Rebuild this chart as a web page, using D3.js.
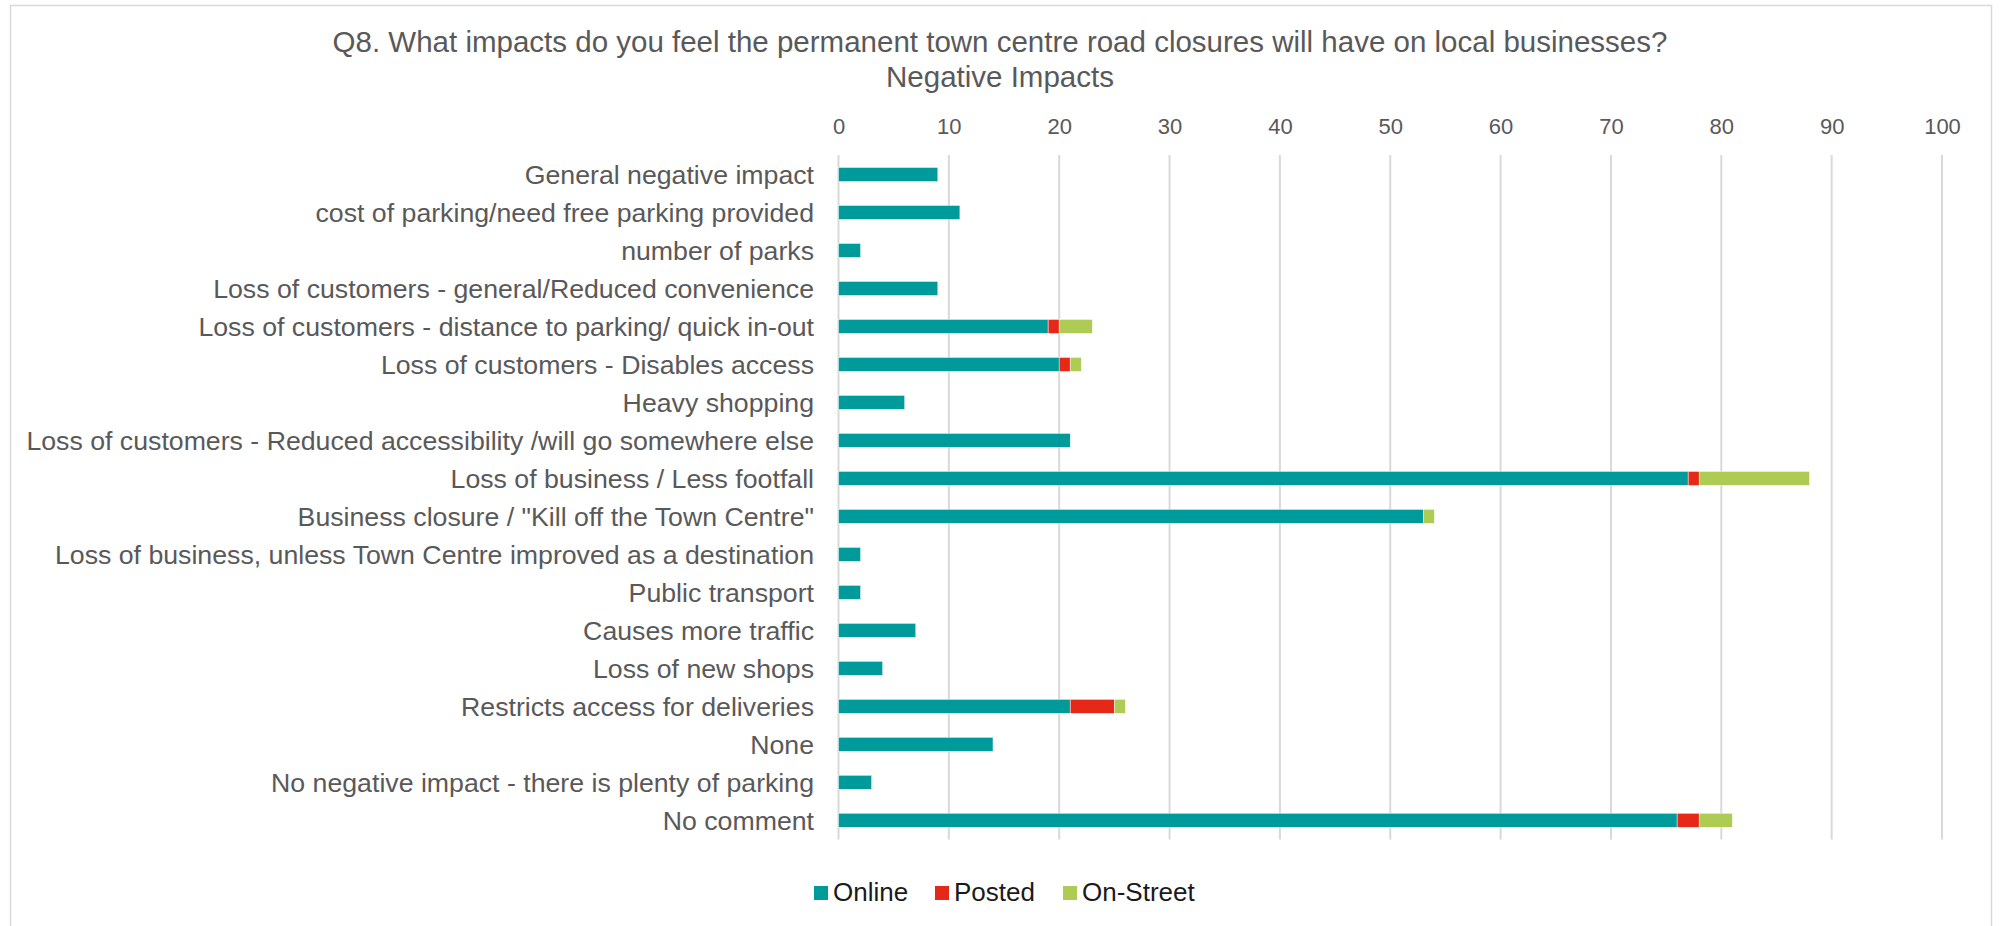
<!DOCTYPE html>
<html>
<head>
<meta charset="utf-8">
<script src="https://cdn.jsdelivr.net/npm/d3@7"></script>
<style>
  html, body { margin: 0; padding: 0; background: #fff; }
  svg { display: block; font-family: "Liberation Sans", Arial, sans-serif; }
</style>
</head>
<body>
<svg id="chart" width="2001" height="926"></svg>
<script>
const categories = [
  "General negative impact",
  "cost of parking/need free parking provided",
  "number of parks",
  "Loss of customers - general/Reduced convenience",
  "Loss of customers - distance to parking/ quick in-out",
  "Loss of customers - Disables access",
  "Heavy shopping",
  "Loss of customers - Reduced accessibility /will go somewhere else",
  "Loss of business / Less footfall",
  "Business closure / \"Kill off the Town Centre\"",
  "Loss of business, unless Town Centre improved as a destination",
  "Public transport",
  "Causes more traffic",
  "Loss of new shops",
  "Restricts access for deliveries",
  "None",
  "No negative impact - there is plenty of parking",
  "No comment"
];
const online   = [9, 11, 2, 9, 19, 20, 6, 21, 77, 53, 2, 2, 7, 4, 21, 14, 3, 76];
const posted   = [0, 0, 0, 0, 1, 1, 0, 0, 1, 0, 0, 0, 0, 0, 4, 0, 0, 2];
const onStreet = [0, 0, 0, 0, 3, 1, 0, 0, 10, 1, 0, 0, 0, 0, 1, 0, 0, 3];
const seriesNames = ["Online", "Posted", "On-Street"];
const seriesColors = ["#009a9a", "#e62818", "#aecb53"];
const xTicks = [0, 10, 20, 30, 40, 50, 60, 70, 80, 90, 100];
const titleLines = ["Q8. What impacts do you feel the permanent town centre road closures will have on local businesses?", "Negative Impacts"];

const svg = d3.select("#chart");

// chart border
svg.append("rect")
  .attr("x", 10.5).attr("y", 5.5)
  .attr("width", 1981).attr("height", 940)
  .attr("fill", "none").attr("stroke", "#d9d9d9").attr("stroke-width", 1.5);

// title
svg.append("text")
  .attr("x", 1000).attr("y", 52)
  .attr("text-anchor", "middle")
  .attr("font-size", 29.5).attr("fill", "#595959")
  .text(titleLines[0]);
svg.append("text")
  .attr("x", 1000).attr("y", 87)
  .attr("text-anchor", "middle")
  .attr("font-size", 29.5).attr("fill", "#595959")
  .text(titleLines[1]);

const x = d3.scaleLinear().domain([0, 100]).range([838.5, 1942]);
const y = d3.scaleBand().domain(categories).range([155.5, 839.3])
  .paddingInner(0.63).paddingOuter(0.315);

// gridlines
svg.append("g").selectAll("line").data(xTicks).join("line")
  .attr("x1", d => x(d)).attr("x2", d => x(d))
  .attr("y1", 155).attr("y2", 839.5)
  .attr("stroke", "#d9d9d9").attr("stroke-width", 2);

// top axis labels
const xAxis = d3.axisTop(x).tickValues(xTicks).tickSize(0).tickPadding(0);
const gx = svg.append("g").attr("transform", "translate(0,134)").call(xAxis);
gx.select(".domain").remove();
gx.selectAll("text")
  .attr("font-size", 22).attr("fill", "#595959")
  .attr("font-family", "Liberation Sans, Arial, sans-serif")
  .attr("dy", 0);

// category axis labels
const yAxis = d3.axisLeft(y).tickSize(0).tickPadding(0);
const gy = svg.append("g").attr("transform", "translate(814,0)").call(yAxis);
gy.select(".domain").remove();
gy.selectAll("text")
  .attr("font-size", 26.7).attr("fill", "#595959")
  .attr("font-family", "Liberation Sans, Arial, sans-serif")
  .attr("dy", "0.36em");

// stacked data
const rows = categories.map((c, i) => ({cat: c, Online: online[i], Posted: posted[i], "On-Street": onStreet[i]}));
const stacked = d3.stack().keys(seriesNames)(rows);

svg.append("g").selectAll("g").data(stacked).join("g")
  .attr("fill", (d, i) => seriesColors[i])
  .selectAll("rect").data(d => d.filter(s => s[1] > s[0])).join("rect")
  .attr("x", d => x(d[0]))
  .attr("width", d => x(d[1]) - x(d[0]))
  .attr("y", d => y(d.data.cat))
  .attr("height", y.bandwidth())
  .attr("stroke", "#ffffff").attr("stroke-width", 0.6).attr("stroke-opacity", 0.8);

// legend
const legendX = [814, 935, 1063];
const lg = svg.append("g").selectAll("g").data(seriesNames).join("g")
  .attr("transform", (d, i) => `translate(${legendX[i]},0)`);
lg.append("rect").attr("x", 0).attr("y", 886).attr("width", 14).attr("height", 14)
  .attr("fill", (d, i) => seriesColors[i]);
lg.append("text").attr("x", 19).attr("y", 901)
  .attr("font-size", 26).attr("fill", "#1a1a1a")
  .text(d => d);
</script>
</body>
</html>
